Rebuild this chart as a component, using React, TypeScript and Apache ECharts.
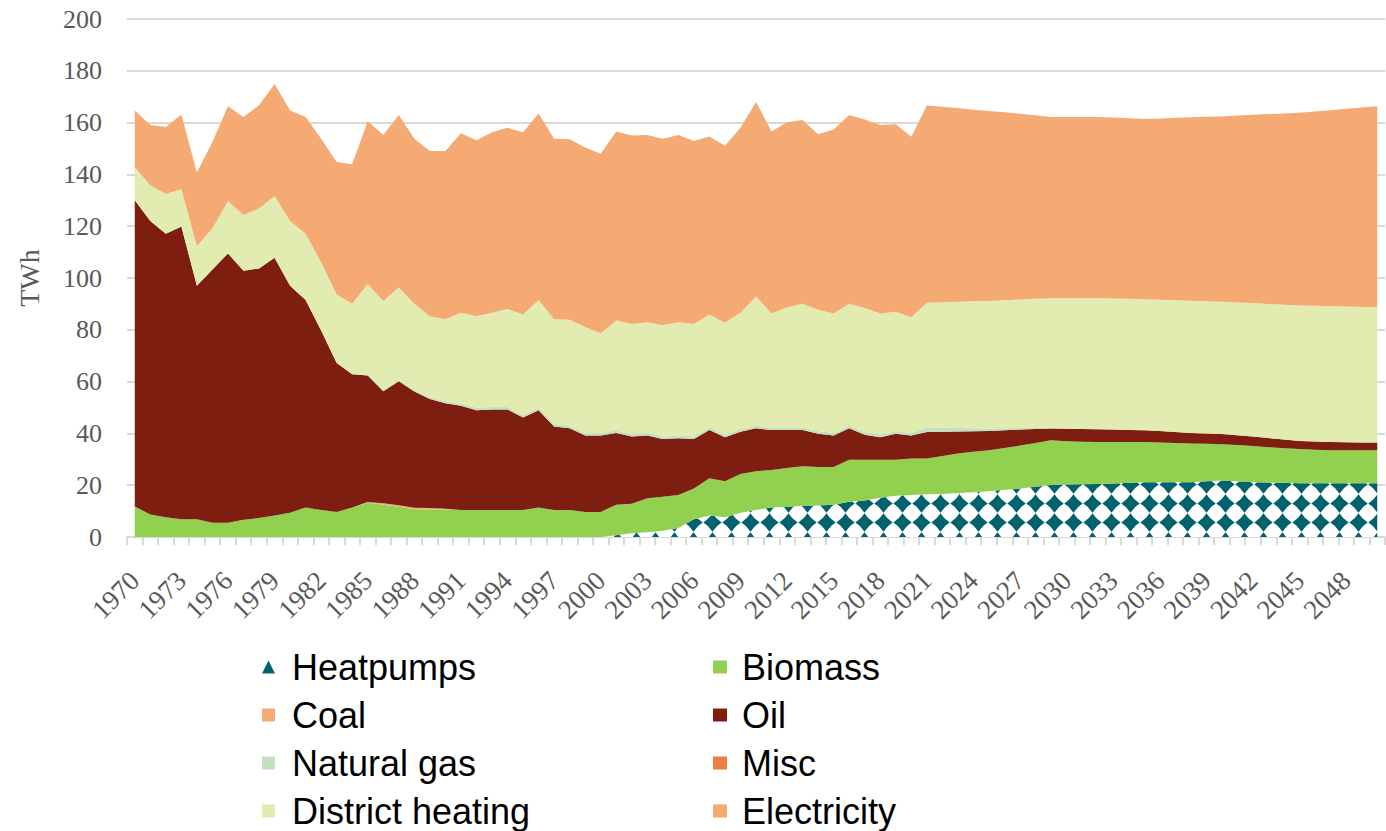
import React, { useEffect, useRef } from "react";
import * as echarts from "echarts";

const years: string[] = Array.from({ length: 81 }, (_, i) => String(1970 + i));

const heatpumps = [
  0, 0, 0, 0, 0, 0, 0, 0, 0, 0, 0, 0, 0, 0, 0, 0, 0, 0, 0, 0, 0, 0, 0, 0, 0, 0, 0, 0, 0, 0,
  0, 0.7, 1.4, 1.8, 2.4, 3.5, 6.9, 8.3, 7.6, 9.4, 10.4, 11.4, 11.6, 12.1, 12.2, 12.5, 13.6, 14.1, 15.2, 15.9, 16.2,
  16.5, 16.6, 17.0, 17.3, 17.7, 18.2, 18.7, 19.4, 20.1, 20.3, 20.4, 20.5, 20.7, 20.9, 21.1, 21.1, 21.1, 21.1, 21.5, 21.8,
  21.5, 21.1, 21.0, 20.9, 20.8, 20.8, 20.8, 20.8, 20.8, 20.8,
];

const biomass = [
  11.8, 8.7, 7.6, 6.9, 6.9, 5.5, 5.5, 6.7, 7.3, 8.3, 9.4, 11.4, 10.4, 9.7, 11.4, 13.2, 12.5, 11.7, 10.7, 10.7, 10.6, 10.4,
  10.4, 10.4, 10.4, 10.4, 11.4, 10.4, 10.4, 9.7, 9.7, 11.8, 11.4, 13.2, 13.1, 12.7, 11.8, 14.4, 13.9, 14.9, 15.0, 14.5,
  15.0, 15.2, 14.8, 14.5, 16.2, 15.7, 14.6, 13.9, 14.1,
  13.8, 14.7, 15.2, 15.6, 15.8, 16.2, 16.6, 16.9, 17.3, 16.7, 16.4, 16.2, 16.0, 15.8, 15.6, 15.4, 15.2, 15.0, 14.5, 14.0,
  14.0, 14.0, 13.7, 13.4, 13.2, 12.9, 12.7, 12.7, 12.7, 12.7,
];

const coal = [
  0, 0, 0, 0, 0, 0, 0, 0, 0, 0, 0, 0, 0, 0, 0, 0.3, 0.5, 0.6, 0.6, 0.5, 0.3, 0,
  0, 0, 0, 0, 0, 0, 0, 0, 0, 0, 0, 0, 0, 0, 0, 0, 0, 0, 0, 0, 0, 0, 0, 0, 0, 0, 0, 0, 0,
  0, 0, 0, 0, 0, 0, 0, 0, 0, 0, 0, 0, 0, 0, 0, 0, 0, 0, 0, 0, 0, 0, 0, 0, 0, 0, 0, 0, 0, 0,
];

const oil = [
  118.2, 113.3, 109.5, 113.0, 90.1, 97.8, 104.0, 96.1, 96.4, 99.5, 87.6, 80.1, 69.3, 57.5, 51.4, 48.9, 43.3, 47.8, 44.9,
  42.1, 40.7, 40.3,
  38.5, 38.8, 38.8, 35.7, 37.5, 32.3, 31.6, 29.5, 29.5, 27.7, 26.0, 24.2, 22.3, 21.9, 19.1, 18.6, 17.0, 16.3, 16.6, 15.4,
  14.7, 14.0, 12.9, 12.2, 12.2, 9.7, 8.7, 10.1, 8.9,
  10.2, 9.3, 8.5, 7.9, 7.4, 6.8, 6.2, 5.4, 4.5, 4.8, 4.9, 4.9, 4.8, 4.6, 4.5, 4.4, 4.2, 4.1, 4.0, 4.0, 3.8, 3.7, 3.5, 3.3,
  3.1, 3.2, 3.2, 3.1, 3.0, 3.0,
];

const naturalGas = [
  0, 0, 0, 0, 0, 0, 0, 0, 0, 0, 0, 0, 0, 0, 0, 0.4, 0.5, 0.5, 0.6, 0.7, 0.8, 0.8,
  1, 1, 1, 1, 1, 1, 1, 1, 1, 1, 1, 1, 1, 1, 1, 1, 1, 1, 1, 1, 1, 1, 1, 1, 1, 1, 1, 1, 1,
  1.8, 1.6, 1.4, 1.2, 1.0, 0.8, 0.6, 0.4, 0.2, 0, 0, 0, 0, 0, 0, 0, 0, 0, 0, 0, 0, 0, 0, 0, 0, 0, 0, 0, 0, 0,
];

const misc = [
  0, 0, 0, 0, 0, 0, 0, 0, 0, 0, 0, 0, 0, 0, 0, 0, 0, 0, 0, 0, 0, 0,
  0, 0, 0, 0, 0, 0, 0, 0, 0, 0, 0, 0, 0, 0, 0, 0, 0, 0, 0, 0, 0, 0, 0, 0, 0, 0, 0, 0, 0,
  0, 0, 0, 0, 0, 0, 0, 0, 0, 0, 0, 0, 0, 0, 0, 0, 0, 0, 0, 0, 0, 0, 0, 0, 0, 0, 0, 0, 0, 0,
];

const districtHeating = [
  12.8, 13.8, 15.3, 14.5, 15.3, 15.9, 20.1, 21.5, 23.1, 23.9, 25.0, 25.6, 26.3, 26.4, 27.3, 34.9, 34.3, 35.7, 33.3, 31.2,
  31.7, 35.1,
  35.3, 36.4, 37.8, 38.8, 41.6, 40.4, 40.9, 40.9, 38.5, 42.4, 42.4, 42.7, 43.0, 43.8, 43.4, 43.6, 43.2, 45.0, 49.9, 44.0,
  46.4, 47.8, 46.8, 46.1, 47.1, 47.9, 46.8, 46.1, 44.6,
  48.1, 48.4, 48.7, 49.0, 49.2, 49.4, 49.6, 49.9, 50.1, 50.4, 50.5, 50.6, 50.6, 50.7, 50.6, 50.7, 50.9, 51.0, 51.0, 51.0,
  51.2, 51.5, 51.8, 52.1, 52.3, 52.4, 52.4, 52.4, 52.3, 52.2,
];

const electricity = [
  21.9, 23.3, 25.9, 28.7, 28.4, 33.3, 36.7, 37.9, 39.9, 43.2, 42.7, 45.1, 47.8, 51.2, 53.8, 62.8, 64.1, 66.6, 63.7, 63.8,
  64.9, 69.3,
  68.0, 69.7, 70.0, 70.4, 72.0, 69.7, 69.7, 69.3, 69.3, 73.0, 72.8, 72.3, 72.0, 72.3, 70.7, 68.7, 68.4, 71.4, 75.1, 70.3,
  71.4, 70.9, 67.8, 71.0, 72.8, 72.8, 72.8, 72.4, 69.7,
  76.2, 75.5, 74.8, 74.0, 73.4, 72.6, 71.7, 70.8, 70.0, 70.0, 70.0, 70.0, 69.9, 69.7, 69.6, 70.0, 70.5, 70.9, 71.3, 71.6,
  72.2, 72.7, 73.3, 73.8, 74.4, 75.0, 75.7, 76.3, 77.0, 77.6,
];

const yTicks = { min: 0, max: 200, interval: 20 };

const seriesDefs = [
  { name: "Heatpumps", data: heatpumps, color: "#00626D" },
  { name: "Biomass", data: biomass, color: "#92D050" },
  { name: "Coal", data: coal, color: "#F5AB78" },
  { name: "Oil", data: oil, color: "#7E1E10" },
  { name: "Natural gas", data: naturalGas, color: "#C3E0BF" },
  { name: "Misc", data: misc, color: "#ED7D45" },
  { name: "District heating", data: districtHeating, color: "#E2EBB0" },
  { name: "Electricity", data: electricity, color: "#F5A973" },
];

function makePattern(): HTMLCanvasElement {
  const c = document.createElement("canvas");
  const s = 19;
  c.width = s;
  c.height = s;
  const ctx = c.getContext("2d")!;
  ctx.fillStyle = "#ffffff";
  ctx.fillRect(0, 0, s, s);
  const cx = s / 2;
  const cy = s / 2;
  const R = 9.2;
  const k = 3.4;
  ctx.fillStyle = "#00626D";
  ctx.beginPath();
  ctx.moveTo(cx, cy - R);
  ctx.quadraticCurveTo(cx + k, cy - k, cx + R, cy);
  ctx.quadraticCurveTo(cx + k, cy + k, cx, cy + R);
  ctx.quadraticCurveTo(cx - k, cy + k, cx - R, cy);
  ctx.quadraticCurveTo(cx - k, cy - k, cx, cy - R);
  ctx.closePath();
  ctx.fill();
  return c;
}

export default function App() {
  const ref = useRef<HTMLDivElement>(null);

  useEffect(() => {
    if (!ref.current) return;
    const chart = echarts.init(ref.current, null, { renderer: "svg" });
    const pattern = makePattern();

    const series = seriesDefs.map((s, idx) => ({
      name: s.name,
      type: "line",
      stack: "total",
      data: s.data,
      symbol: "none",
      showSymbol: false,
      lineStyle: { width: 0 },
      itemStyle: { color: s.color },
      areaStyle:
        idx === 0
          ? { color: { image: pattern, repeat: "repeat" }, opacity: 1 }
          : { color: s.color, opacity: 1 },
      z: 2,
    }));

    const legendText = {
      fontFamily: "Liberation Sans, Arial, sans-serif",
      fontSize: 36,
      color: "#000000",
      lineHeight: 40,
      padding: [0, 0, 0, 12],
    };

    chart.setOption({
      animation: false,
      backgroundColor: "#ffffff",
      grid: { left: 127, right: 1, top: 19, bottom: 294, containLabel: false },
      xAxis: {
        type: "category",
        data: years,
        boundaryGap: true,
        axisLine: { show: true, lineStyle: { color: "#d9d9d9", width: 2 } },
        axisTick: { show: true, interval: 0, length: 8, lineStyle: { color: "#d9d9d9", width: 2 } },
        axisLabel: {
          interval: 2,
          rotate: 45,
          margin: 39,
          fontFamily: "Liberation Serif, Times New Roman, serif",
          fontSize: 27,
          color: "#595959",
        },
        splitLine: { show: false },
      },
      yAxis: {
        type: "value",
        min: yTicks.min,
        max: yTicks.max,
        interval: yTicks.interval,
        name: "TWh",
        nameLocation: "middle",
        nameGap: 84,
        nameTextStyle: {
          fontFamily: "Liberation Serif, Times New Roman, serif",
          fontSize: 28,
          color: "#595959",
        },
        axisLine: { show: false },
        axisTick: { show: false },
        axisLabel: {
          margin: 25,
          fontFamily: "Liberation Serif, Times New Roman, serif",
          fontSize: 26,
          color: "#595959",
        },
        splitLine: { show: true, lineStyle: { color: "#d9d9d9", width: 2 } },
      },
      legend: [
        {
          orient: "vertical",
          left: 262,
          top: 647,
          padding: 0,
          itemGap: 8,
          itemWidth: 13,
          itemHeight: 13,
          icon: "rect",
          textStyle: legendText,
          data: [
            { name: "Heatpumps", icon: "triangle", itemStyle: { color: "#00626D" } },
            { name: "Coal" },
            { name: "Natural gas" },
            { name: "District heating" },
          ],
        },
        {
          orient: "vertical",
          left: 713,
          top: 647,
          padding: 0,
          itemGap: 8,
          itemWidth: 14,
          itemHeight: 13,
          icon: "rect",
          textStyle: { ...legendText, padding: [0, 0, 0, 10] },
          data: [{ name: "Biomass" }, { name: "Oil" }, { name: "Misc" }, { name: "Electricity" }],
        },
      ],
      series,
    });

    return () => chart.dispose();
  }, []);

  return (
    <div
      ref={ref}
      style={{ position: "fixed", left: 0, top: 0, width: 1386, height: 831, background: "#fff" }}
    />
  );
}
